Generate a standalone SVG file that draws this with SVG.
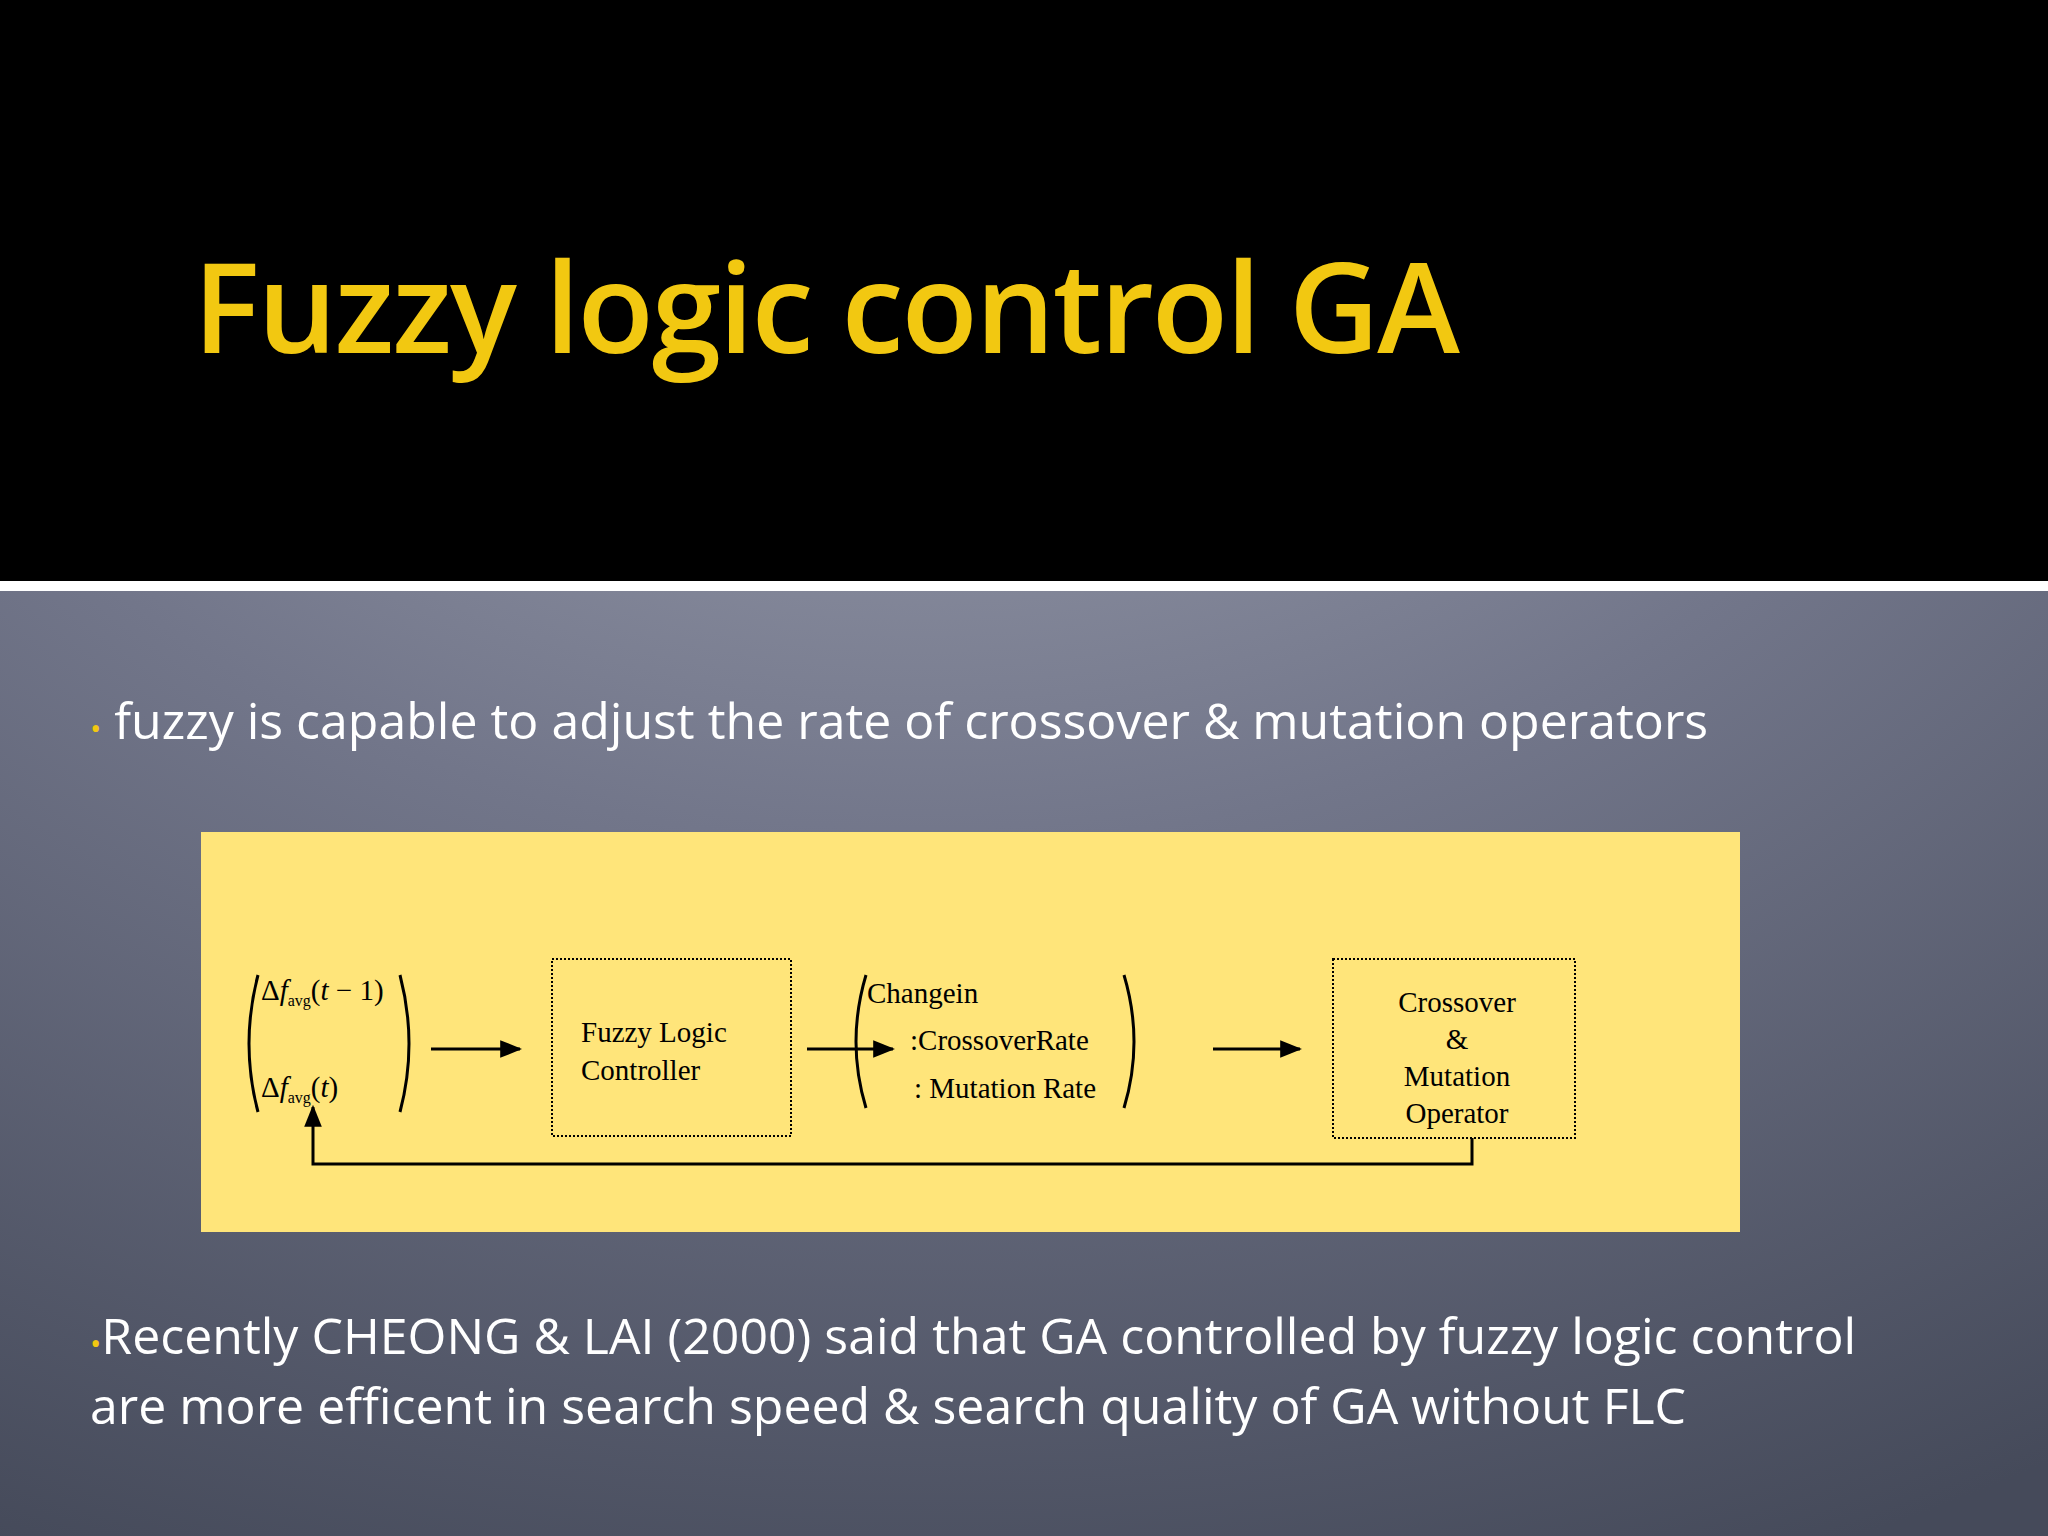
<svg xmlns="http://www.w3.org/2000/svg" width="2048" height="1536" viewBox="0 0 2048 1536">
<defs>
<radialGradient id="bg" cx="0.45" cy="0" r="1.1">
<stop offset="0" stop-color="#a6aab8"/><stop offset="0.5" stop-color="#72768a"/><stop offset="1" stop-color="#454a5a"/>
</radialGradient>
<marker id="ah2" viewBox="0 0 10 10" refX="9" refY="5" markerWidth="22" markerHeight="22" markerUnits="userSpaceOnUse" orient="auto"><path d="M0,1L10,5L0,9z" fill="#000"/></marker>
</defs>
<style>
.b{font-family:"Open Sans","Liberation Sans",sans-serif;font-size:50px;fill:#fff}
.d{font-family:"Liberation Serif",serif;font-size:29px;fill:#000}
.box{fill:none;stroke:#000;stroke-width:2;stroke-dasharray:2 2}
.ln{fill:none;stroke:#000;stroke-width:3}
</style>
<rect width="2048" height="1536" fill="url(#bg)"/>
<rect width="2048" height="581" fill="#000"/>
<rect y="581" width="2048" height="10" fill="#fff"/>
<text x="193" y="353" font-family="'Open Sans','Liberation Sans',sans-serif" font-weight="600" font-size="125" fill="#f2c811" textLength="1267">Fuzzy logic control GA</text>
<text x="90" y="739" class="b"><tspan fill="#f2c811" font-size="30">•</tspan> fuzzy is capable to adjust the rate of crossover &amp; mutation operators</text>
<rect x="201" y="832" width="1539" height="400" fill="#ffe57a"/>
<g id="inputs">
<path class="ln" d="M258,975 Q240,1044 258,1112 M400,975 Q418,1044 400,1112" stroke-width="2"/>
<text class="d" x="261" y="1000">Δ<tspan font-style="italic">f</tspan><tspan font-size="16" dy="6">avg</tspan><tspan dy="-6">(<tspan font-style="italic">t</tspan> − 1)</tspan></text>
<text class="d" x="261" y="1097">Δ<tspan font-style="italic">f</tspan><tspan font-size="16" dy="6">avg</tspan><tspan dy="-6">(<tspan font-style="italic">t</tspan>)</tspan></text>
</g>
<g id="flc">
<rect class="box" x="552" y="959" width="239" height="177"/>
<text class="d" x="581" y="1042">Fuzzy   Logic</text>
<text class="d" x="581" y="1080">Controller</text>
</g>
<g id="change">
<path class="ln" d="M866,975 Q846,1042 866,1108 M1124,975 Q1144,1042 1124,1108" stroke-width="2"/>
<text class="d" x="867" y="1003">Changein</text>
<text class="d" x="910" y="1050">:CrossoverRate</text>
<text class="d" x="914" y="1098">: Mutation Rate</text>
</g>
<g id="operator">
<rect class="box" x="1333" y="959" width="242" height="179"/>
<text class="d" x="1457" y="1012" text-anchor="middle">Crossover</text>
<text class="d" x="1457" y="1049" text-anchor="middle">&amp;</text>
<text class="d" x="1457" y="1086" text-anchor="middle">Mutation</text>
<text class="d" x="1457" y="1123" text-anchor="middle">Operator</text>
</g>
<g id="connectors">
<line class="ln" x1="431" y1="1049" x2="520" y2="1049" marker-end="url(#ah2)"/>
<line class="ln" x1="807" y1="1049" x2="893" y2="1049" marker-end="url(#ah2)"/>
<line class="ln" x1="1213" y1="1049" x2="1300" y2="1049" marker-end="url(#ah2)"/>
<polyline class="ln" points="1472,1138 1472,1164 313,1164 313,1107" marker-end="url(#ah2)"/>
</g>
<text x="90" y="1354" class="b"><tspan fill="#f2c811" font-size="30">•</tspan>Recently CHEONG &amp; LAI (2000) said that GA controlled by fuzzy logic control</text>
<text x="90" y="1424" class="b">are more efficent in search speed &amp; search quality of GA without FLC</text>
</svg>
